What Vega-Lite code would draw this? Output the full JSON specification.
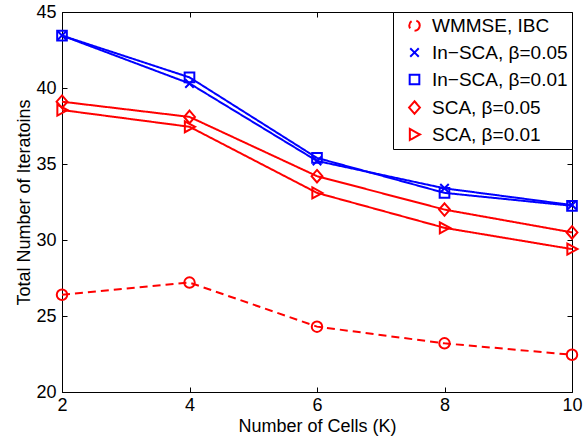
{
  "$schema": "https://vega.github.io/schema/vega-lite/v6.json",
  "width": 510,
  "height": 380,
  "autosize": "none",
  "padding": {"left": 62, "top": 12, "right": 11, "bottom": 46},
  "background": "white",
  "data": {"values": [
    {"K": 2, "iter": 26.4, "series": "WMMSE, IBC"},
    {"K": 4, "iter": 27.2, "series": "WMMSE, IBC"},
    {"K": 6, "iter": 24.3, "series": "WMMSE, IBC"},
    {"K": 8, "iter": 23.2, "series": "WMMSE, IBC"},
    {"K": 10, "iter": 22.45, "series": "WMMSE, IBC"},
    {"K": 2, "iter": 43.45, "series": "In−SCA, β=0.05"},
    {"K": 4, "iter": 40.3, "series": "In−SCA, β=0.05"},
    {"K": 6, "iter": 35.2, "series": "In−SCA, β=0.05"},
    {"K": 8, "iter": 33.4, "series": "In−SCA, β=0.05"},
    {"K": 10, "iter": 32.3, "series": "In−SCA, β=0.05"},
    {"K": 2, "iter": 43.45, "series": "In−SCA, β=0.01"},
    {"K": 4, "iter": 40.7, "series": "In−SCA, β=0.01"},
    {"K": 6, "iter": 35.4, "series": "In−SCA, β=0.01"},
    {"K": 8, "iter": 33.1, "series": "In−SCA, β=0.01"},
    {"K": 10, "iter": 32.25, "series": "In−SCA, β=0.01"},
    {"K": 2, "iter": 39.1, "series": "SCA, β=0.05"},
    {"K": 4, "iter": 38.1, "series": "SCA, β=0.05"},
    {"K": 6, "iter": 34.2, "series": "SCA, β=0.05"},
    {"K": 8, "iter": 32.0, "series": "SCA, β=0.05"},
    {"K": 10, "iter": 30.5, "series": "SCA, β=0.05"},
    {"K": 2, "iter": 38.55, "series": "SCA, β=0.01"},
    {"K": 4, "iter": 37.45, "series": "SCA, β=0.01"},
    {"K": 6, "iter": 33.1, "series": "SCA, β=0.01"},
    {"K": 8, "iter": 30.8, "series": "SCA, β=0.01"},
    {"K": 10, "iter": 29.4, "series": "SCA, β=0.01"}
  ]},
  "config": {
    "view": {"stroke": "black", "strokeWidth": 1},
    "font": "Liberation Sans",
    "axis": {
      "grid": false,
      "domainColor": "black",
      "tickColor": "black",
      "labelColor": "black",
      "titleColor": "black",
      "labelFont": "Liberation Sans",
      "titleFont": "Liberation Sans",
      "labelFontSize": 18,
      "titleFontSize": 18,
      "titleFontWeight": "normal",
      "tickSize": -5,
      "labelFlush": false,
      "labelOverlap": false
    },
    "legend": {
      "orient": "top-right",
      "offset": 0,
      "padding": 4,
      "strokeColor": "black",
      "fillColor": "white",
      "labelFont": "Liberation Sans",
      "labelFontSize": 19,
      "labelColor": "black",
      "symbolSize": 120,
      "symbolStrokeWidth": 2,
      "rowPadding": 7,
      "symbolOffset": 8,
      "labelOffset": 8,
      "labelLimit": 300
    }
  },
  "layer": [
    {
      "encoding": {
        "x": {"field": "K", "type": "quantitative",
              "scale": {"domain": [2, 10], "nice": false, "zero": false},
              "axis": {"values": [2, 4, 6, 8, 10], "title": "Number of Cells (K)", "labelPadding": 9, "titlePadding": 3}},
        "y": {"field": "iter", "type": "quantitative",
              "scale": {"domain": [20, 45], "nice": false, "zero": false},
              "axis": {"values": [20, 25, 30, 35, 40, 45], "title": "Total Number of Iteratoins", "labelPadding": 11, "titlePadding": 2}},
        "color": {"field": "series", "type": "nominal",
                  "scale": {"domain": ["WMMSE, IBC", "In−SCA, β=0.05", "In−SCA, β=0.01", "SCA, β=0.05", "SCA, β=0.01"],
                            "range": ["#ff0000", "#0000ff", "#0000ff", "#ff0000", "#ff0000"]},
                  "legend": {"title": null, "labelFontSize": 19, "symbolSize": 120, "rowPadding": 7, "symbolOffset": 8, "labelOffset": 8, "padding": 4}}
      },
      "layer": [
        {
          "mark": {"type": "line", "strokeWidth": 2},
          "encoding": {
            "strokeDash": {"field": "series", "type": "nominal",
                           "scale": {"domain": ["WMMSE, IBC", "In−SCA, β=0.05", "In−SCA, β=0.01", "SCA, β=0.05", "SCA, β=0.01"],
                                     "range": [[8, 5], [1, 0], [1, 0], [1, 0], [1, 0]]},
                           "legend": null}
          }
        },
        {
          "mark": {"type": "point", "filled": false, "strokeWidth": 2, "opacity": 1},
          "encoding": {
            "shape": {"field": "series", "type": "nominal",
                      "scale": {"domain": ["WMMSE, IBC", "In−SCA, β=0.05", "In−SCA, β=0.01", "SCA, β=0.05", "SCA, β=0.01"],
                                "range": ["circle", "M-0.8,-0.8L0.8,0.8M-0.8,0.8L0.8,-0.8", "M-0.9,-0.9H0.9V0.9H-0.9Z", "M0,-1.15L1,0L0,1.15L-1,0Z", "M-0.85,-1L1,0L-0.85,1Z"]},
                      "legend": null},
            "size": {"field": "series", "type": "nominal",
                     "scale": {"domain": ["WMMSE, IBC", "In−SCA, β=0.05", "In−SCA, β=0.01", "SCA, β=0.05", "SCA, β=0.01"],
                               "range": [110, 120, 120, 140, 160]},
                     "legend": null}
          }
        }
      ]
    },
    {
      "mark": {"type": "point", "opacity": 0},
      "encoding": {
        "x": {"field": "K", "type": "quantitative",
              "scale": {"domain": [2, 10], "nice": false, "zero": false},
              "axis": {"orient": "top", "values": [2, 4, 6, 8, 10], "labels": false, "domain": false, "title": null}},
        "y": {"field": "iter", "type": "quantitative",
              "scale": {"domain": [20, 45], "nice": false, "zero": false},
              "axis": {"orient": "right", "values": [20, 25, 30, 35, 40, 45], "labels": false, "domain": false, "title": null}}
      }
    }
  ],
  "resolve": {"scale": {"x": "independent", "y": "independent"}}
}
